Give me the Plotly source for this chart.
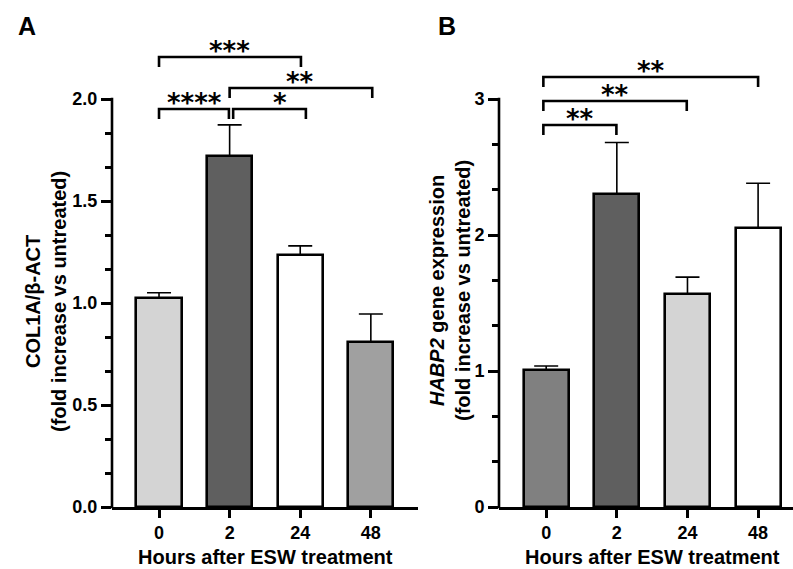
import plotly.graph_objects as go

# ---------------- data ----------------
hours = ["0", "2", "24", "48"]

colA_mean = [1.025, 1.72, 1.235, 0.81]
colA_err_top = [1.05, 1.873, 1.28, 0.946]
colA_colors = ["#d4d4d4", "#5f5f5f", "#ffffff", "#a0a0a0"]

habp_mean = [1.007, 2.30, 1.566, 2.05]
habp_err_top = [1.037, 2.68, 1.69, 2.38]
habp_colors = ["#808080", "#5f5f5f", "#d4d4d4", "#ffffff"]

# significance brackets: (x_start, x_end, y level, label, label x)
sigA = [
    (0.0, 2.01, 2.206, "***", 1.0),
    (1.0, 3.02, 2.054, "**", 2.0),
    (0.0, 0.99, 1.951, "****", 0.5),
    (1.05, 2.08, 1.951, "*", 1.72),
]
sigB = [
    (-0.04, 3.0, 3.162, "**", 1.48),
    (-0.04, 1.99, 2.985, "**", 0.97),
    (-0.04, 0.994, 2.809, "**", 0.48),
]

yA_ticks = [0.0, 0.5, 1.0, 1.5, 2.0]
yA_ticktext = ["0.0", "0.5", "1.0", "1.5", "2.0"]
yA_minor = [i / 6 for i in range(13)]
yB_ticks = [0, 1, 2, 3]
yB_minor = [i / 3 for i in range(10)]

# ---------------- layout geometry ----------------
W, H = 793, 569
FONT = "Liberation Sans, Arial, sans-serif"
LW = 2.6

def px_x(p):
    return p / W

def px_y(p):
    return 1 - p / H

ydom = [px_y(507), px_y(38)]
xdomA = [px_x(112), px_x(418)]
xdomB = [px_x(499), 1.0]
yA_max = (507 - 38) / 204.0
yB_max = (507 - 38) / 136.0
xA_range = [-0.666, 3.668]
xB_range = [-0.668, 3.494]

fig = go.Figure()

def add_bars(means, tops, colors, xa, ya):
    fig.add_trace(go.Bar(
        x=list(range(len(means))), y=means,
        width=0.64,
        marker=dict(color=colors, line=dict(color="black", width=LW)),
        error_y=dict(type="data", symmetric=False,
                     array=[t - m for t, m in zip(tops, means)],
                     arrayminus=[0] * len(means),
                     color="black", thickness=1.6, width=12),
        xaxis=xa, yaxis=ya, showlegend=False, hoverinfo="skip",
    ))

add_bars(colA_mean, colA_err_top, colA_colors, "x", "y")
add_bars(habp_mean, habp_err_top, habp_colors, "x2", "y2")

common_x = dict(
    tickmode="array", tickvals=[0, 1, 2, 3], ticktext=hours,
    showline=True, linecolor="black", linewidth=LW,
    ticks="outside", ticklen=8, tickwidth=LW, tickcolor="black",
    tickfont=dict(family=FONT, size=18, color="black", weight="bold"),
    showgrid=False, zeroline=False, fixedrange=True, automargin=False,
)
common_y = dict(
    showline=False, ticks="outside", ticklen=10, tickwidth=LW, tickcolor="black",
    tickfont=dict(family=FONT, size=18, color="black", weight="bold"),
    showgrid=False, zeroline=False, automargin=False, ticklabelstandoff=0,
    fixedrange=True,
)

fig.update_layout(
    width=W, height=H,
    margin=dict(l=0, r=0, t=0, b=0),
    paper_bgcolor="white", plot_bgcolor="rgba(0,0,0,0)",
    bargap=0,
    xaxis=dict(domain=xdomA, range=xA_range, anchor="y", **common_x),
    yaxis=dict(domain=ydom, range=[0, yA_max], anchor="x",
               tickmode="array", tickvals=yA_ticks, ticktext=yA_ticktext,
               minor=dict(tickvals=yA_minor, ticks="outside", ticklen=6,
                          tickwidth=LW, tickcolor="black"),
               **common_y),
    xaxis2=dict(domain=xdomB, range=xB_range, anchor="y2", **common_x),
    yaxis2=dict(domain=ydom, range=[0, yB_max], anchor="x2",
                tickmode="array", tickvals=yB_ticks,
                ticktext=[str(v) for v in yB_ticks],
                minor=dict(tickvals=yB_minor, ticks="outside", ticklen=6,
                           tickwidth=LW, tickcolor="black"),
                **common_y),
)

# y-axis lines (only up to the top major tick)
def yline(xdom, ymax, top):
    y0 = ydom[0]
    y1 = ydom[0] + top / ymax * (ydom[1] - ydom[0])
    fig.add_shape(type="line", xref="paper", yref="paper",
                  x0=xdom[0], x1=xdom[0], y0=y0 - 1.3 / H, y1=y1 + 1.3 / H,
                  line=dict(color="black", width=LW))

yline(xdomA, yA_max, yA_ticks[-1])
yline(xdomB, yB_max, yB_ticks[-1])

# significance brackets
def brackets(sig, xr, yr, leg):
    for x0, x1, yv, lab, lx in sig:
        fig.add_shape(type="path", xref=xr, yref=yr,
                      path=f"M {x0},{yv - leg} L {x0},{yv} L {x1},{yv} L {x1},{yv - leg}",
                      line=dict(color="black", width=LW))
        fig.add_annotation(x=lx, y=yv, xref=xr, yref=yr, text=lab,
                           showarrow=False, yanchor="middle", yshift=6,
                           font=dict(family="DejaVu Sans", size=26,
                                     color="black", weight="bold"))

brackets(sigA, "x", "y", 10 / 204.0)
brackets(sigB, "x2", "y2", 10 / 136.0)

# panel letters
for lab, xp in (("A", 27), ("B", 447)):
    fig.add_annotation(x=px_x(xp), y=px_y(26), xref="paper", yref="paper",
                       text=f"<b>{lab}</b>", showarrow=False,
                       xanchor="center", yanchor="middle",
                       font=dict(family=FONT, size=25, color="black"))

# axis titles
xt_font = dict(family=FONT, size=20, color="black")
fig.add_annotation(x=px_x(265), y=px_y(557), xref="paper", yref="paper",
                   text="<b>Hours after ESW treatment</b>", showarrow=False,
                   xanchor="center", yanchor="middle", font=xt_font)
fig.add_annotation(x=px_x(652), y=px_y(557), xref="paper", yref="paper",
                   text="<b>Hours after ESW treatment</b>", showarrow=False,
                   xanchor="center", yanchor="middle", font=xt_font)

fig.add_annotation(x=px_x(46), y=px_y(302), xref="paper", yref="paper",
                   text="<b>COL1A/β-ACT<br>(fold increase vs untreated)</b>",
                   showarrow=False, textangle=-90,
                   xanchor="center", yanchor="middle", font=xt_font)
fig.add_annotation(x=px_x(450), y=px_y(291), xref="paper", yref="paper",
                   text="<b><i>HABP2</i> gene expression<br>(fold increase vs untreated)</b>",
                   showarrow=False, textangle=-90,
                   xanchor="center", yanchor="middle", font=xt_font)

fig.write_html("out.html", config={"displayModeBar": False},
               post_script="document.body.style.margin='0';")
